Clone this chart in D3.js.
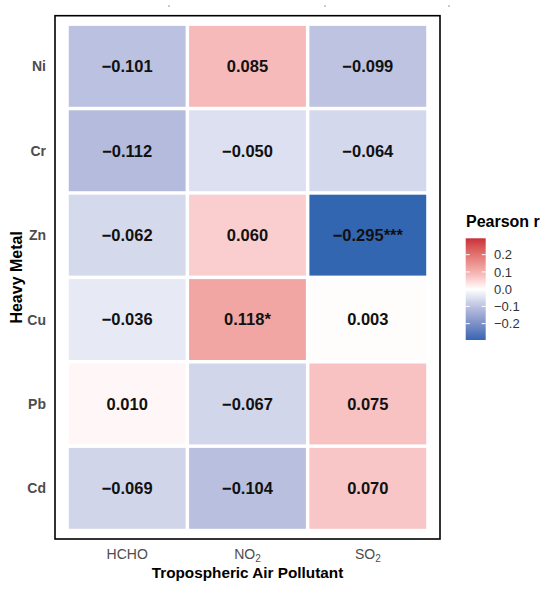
<!DOCTYPE html>
<html>
<head>
<meta charset="utf-8">
<script src="https://cdn.jsdelivr.net/npm/d3@7"></script>
<style>
  body { margin: 0; background: #fff; }
  svg { font-family: "Liberation Sans", Arial, sans-serif; }
</style>
</head>
<body>
<div id="chart"></div>
<script>
// heavy metal (rows) vs tropospheric air pollutant (columns)
var metals = ["Ni", "Cr", "Zn", "Cu", "Pb", "Cd"];
var pollutants = ["HCHO", "NO2", "SO2"];
var hcho = [-0.101, -0.112, -0.062, -0.036, 0.010, -0.069];
var no2 = [0.085, -0.050, 0.060, 0.118, -0.067, -0.104];
var so2 = [-0.099, -0.064, -0.295, 0.003, 0.075, 0.070];
var stars = [
  ["", "", "", "", "", ""],
  ["", "", "", "*", "", ""],
  ["", "", "***", "", "", ""]
];
var legendTicks = [0.2, 0.1, 0.0, -0.1, -0.2];
var limits = [-0.295, 0.295];

var width = 550, height = 593;
var panel = {left: 55, right: 440, top: 15.7, bottom: 539};
var gap = 3.5;

var series = [hcho, no2, so2];
var cells = [];
pollutants.forEach(function (p, j) {
  metals.forEach(function (m, i) {
    cells.push({col: p, row: m, value: series[j][i], sig: stars[j][i]});
  });
});

var svg = d3.select("#chart").append("svg")
  .attr("width", width).attr("height", height);

var x = d3.scaleBand().domain(pollutants)
  .range([panel.left, panel.right]).paddingInner(0).paddingOuter(0.1);
var y = d3.scaleBand().domain(metals)
  .range([panel.top, panel.bottom]).paddingInner(0).paddingOuter(0.1);

// diverging fill, blue - white - red
var color = d3.scaleLinear()
  .domain([limits[0], -0.112, 0, 0.085, limits[1]])
  .range(["#3366B1", "#B4BBDD", "#FFFFFF", "#F6BABA", "#C92E3A"])
  .interpolate(d3.interpolateLab)
  .clamp(true);

var fmt = d3.format(".3f");

// tiles
svg.append("g").selectAll("rect").data(cells).enter().append("rect")
  .attr("x", function (d) { return x(d.col) + gap / 2; })
  .attr("y", function (d) { return y(d.row) + gap / 2; })
  .attr("width", x.bandwidth() - gap)
  .attr("height", y.bandwidth() - gap)
  .attr("fill", function (d) { return color(d.value); });

// values
var lbl = svg.append("g").selectAll("text").data(cells).enter().append("text")
  .attr("x", function (d) { return x(d.col) + x.bandwidth() / 2; })
  .attr("y", function (d) { return y(d.row) + y.bandwidth() / 2; })
  .attr("dy", "0.36em")
  .attr("text-anchor", "middle")
  .attr("font-size", 16.5)
  .attr("font-weight", "bold")
  .attr("fill", "#111");
lbl.append("tspan").text(function (d) { return fmt(d.value); });
lbl.append("tspan").text(function (d) { return d.sig; });

// panel border
svg.append("rect")
  .attr("x", panel.left).attr("y", panel.top)
  .attr("width", panel.right - panel.left)
  .attr("height", panel.bottom - panel.top)
  .attr("fill", "none").attr("stroke", "#000").attr("stroke-width", 1.6);

// y axis labels
svg.append("g").selectAll("text").data(metals).enter().append("text")
  .attr("x", 46)
  .attr("y", function (d) { return y(d) + y.bandwidth() / 2; })
  .attr("dy", "0.36em")
  .attr("text-anchor", "end")
  .attr("font-size", 14)
  .attr("font-weight", "bold")
  .attr("fill", "#4d4d4d")
  .text(function (d) { return d; });

// x axis labels (subscripts for NO2 / SO2)
var xl = svg.append("g").selectAll("text").data(pollutants).enter().append("text")
  .attr("x", function (d) { return x(d) + x.bandwidth() / 2; })
  .attr("y", 559)
  .attr("text-anchor", "middle")
  .attr("font-size", 14)
  .attr("fill", "#4d4d4d");
xl.each(function (d) {
  var t = d3.select(this);
  var m = d.match(/^([A-Za-z]+?)(\d+)$/);
  if (m) {
    t.append("tspan").text(m[1]);
    t.append("tspan").attr("font-size", 10).attr("dy", 3).text(m[2]);
  } else {
    t.text(d);
  }
});

// axis titles
svg.append("text")
  .attr("x", (panel.left + panel.right) / 2).attr("y", 578)
  .attr("text-anchor", "middle")
  .attr("font-size", 15.3).attr("font-weight", "bold")
  .text("Tropospheric Air Pollutant");

svg.append("text")
  .attr("transform", "translate(21.5," + (panel.top + panel.bottom) / 2 + ") rotate(-90)")
  .attr("text-anchor", "middle")
  .attr("font-size", 16).attr("font-weight", "bold")
  .text("Heavy Metal");

// legend
var lg = {x: 465.7, w: 20, top: 238.3, bottom: 340};
var ly = d3.scaleLinear().domain(limits).range([lg.bottom, lg.top]);

var defs = svg.append("defs");
var grad = defs.append("linearGradient").attr("id", "pearson")
  .attr("x1", 0).attr("y1", 1).attr("x2", 0).attr("y2", 0);
d3.range(0, 1.0001, 0.025).forEach(function (t) {
  grad.append("stop").attr("offset", t)
    .attr("stop-color", color(limits[0] + (limits[1] - limits[0]) * t));
});

svg.append("text")
  .attr("x", 466).attr("y", 227)
  .attr("font-size", 16).attr("font-weight", "bold")
  .text("Pearson r");

svg.append("rect")
  .attr("x", lg.x).attr("y", lg.top)
  .attr("width", lg.w).attr("height", lg.bottom - lg.top)
  .attr("fill", "url(#pearson)");

var lt = svg.append("g").selectAll("g").data(legendTicks).enter().append("g");
lt.append("line")
  .attr("x1", lg.x).attr("x2", lg.x + 4)
  .attr("y1", function (d) { return ly(d); }).attr("y2", function (d) { return ly(d); })
  .attr("stroke", "#fff").attr("stroke-width", 1);
lt.append("line")
  .attr("x1", lg.x + lg.w - 4).attr("x2", lg.x + lg.w)
  .attr("y1", function (d) { return ly(d); }).attr("y2", function (d) { return ly(d); })
  .attr("stroke", "#fff").attr("stroke-width", 1);
lt.append("text")
  .attr("x", 494)
  .attr("y", function (d) { return ly(d); })
  .attr("dy", "0.36em")
  .attr("font-size", 13)
  .attr("fill", "#333")
  .text(function (d) { return d3.format(".1f")(d); });

// stray specks along the top edge of the source image
svg.append("g").selectAll("circle").data([169, 325, 449]).enter().append("circle")
  .attr("cx", function (d) { return d; }).attr("cy", 6).attr("r", 0.8)
  .attr("fill", "#888");
</script>
</body>
</html>
